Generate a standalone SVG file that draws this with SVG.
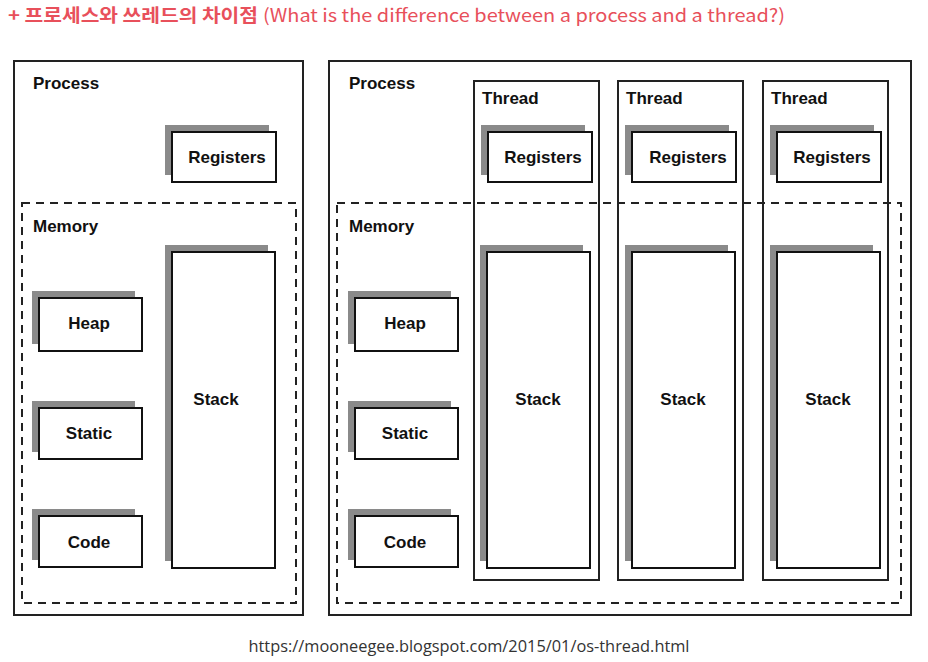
<svg xmlns="http://www.w3.org/2000/svg" width="928" height="662" viewBox="0 0 928 662">
<style>
.outer{fill:#fff;stroke:#222;stroke-width:2}
.box{fill:#fff;stroke:#111;stroke-width:2}
.sh{fill:#8a8a8a;stroke:none}
.mem{fill:none;stroke:#222;stroke-width:2;stroke-dasharray:8 6}
.lbl{font-family:"Liberation Sans",Arial,sans-serif;font-weight:bold;font-size:17px;fill:#111}
.ctr{text-anchor:middle}
</style>
<rect width="928" height="662" fill="#fff"/>
<text x="8" y="22" font-family="'Noto Sans CJK KR','Noto Sans',sans-serif" font-size="18" fill="#e8505b"><tspan font-weight="bold" textLength="250" lengthAdjust="spacingAndGlyphs">+ 프로세스와 쓰레드의 차이점</tspan><tspan x="263" textLength="522" lengthAdjust="spacingAndGlyphs">(What is the difference between a process and a thread?)</tspan></text>

<g id="process-left">
<rect class="outer" x="14" y="61" width="289" height="554"/>
<text class="lbl" x="33" y="89">Process</text>
</g>
<g id="process-right">
<rect class="outer" x="329" y="61" width="582" height="554"/>
<text class="lbl" x="349" y="89">Process</text>
</g>

<g id="thread-1">
<rect class="outer" x="474" y="81" width="125" height="499"/>
<text class="lbl" x="482" y="104">Thread</text>
</g>
<g id="thread-2">
<rect class="outer" x="618" y="81" width="125" height="499"/>
<text class="lbl" x="626" y="104">Thread</text>
</g>
<g id="thread-3">
<rect class="outer" x="763" y="81" width="125" height="499"/>
<text class="lbl" x="771" y="104">Thread</text>
</g>

<g id="memory-left">
<rect class="mem" x="22" y="203" width="274" height="400"/>
<text class="lbl" x="33" y="232">Memory</text>
</g>
<g id="memory-right">
<rect class="mem" x="337" y="203" width="564" height="400"/>
<text class="lbl" x="349" y="232">Memory</text>
</g>

<g id="registers-left">
<rect class="sh" x="165" y="125" width="104" height="50"/>
<rect class="box" x="172" y="132" width="104" height="50"/>
<text class="lbl ctr" x="227" y="163">Registers</text>
</g>
<g id="stack-left">
<rect class="sh" x="165" y="245" width="103" height="316"/>
<rect class="box" x="172" y="252" width="103" height="316"/>
<text class="lbl ctr" x="216" y="405">Stack</text>
</g>
<g id="heap-left">
<rect class="sh" x="32" y="291" width="103" height="53"/>
<rect class="box" x="39" y="298" width="103" height="53"/>
<text class="lbl ctr" x="89" y="329">Heap</text>
</g>
<g id="static-left">
<rect class="sh" x="32" y="401" width="103" height="51"/>
<rect class="box" x="39" y="408" width="103" height="51"/>
<text class="lbl ctr" x="89" y="439">Static</text>
</g>
<g id="code-left">
<rect class="sh" x="32" y="509" width="103" height="51"/>
<rect class="box" x="39" y="516" width="103" height="51"/>
<text class="lbl ctr" x="89" y="548">Code</text>
</g>

<g id="heap-right">
<rect class="sh" x="348" y="291" width="103" height="53"/>
<rect class="box" x="355" y="298" width="103" height="53"/>
<text class="lbl ctr" x="405" y="329">Heap</text>
</g>
<g id="static-right">
<rect class="sh" x="348" y="401" width="103" height="51"/>
<rect class="box" x="355" y="408" width="103" height="51"/>
<text class="lbl ctr" x="405" y="439">Static</text>
</g>
<g id="code-right">
<rect class="sh" x="348" y="509" width="103" height="51"/>
<rect class="box" x="355" y="516" width="103" height="51"/>
<text class="lbl ctr" x="405" y="548">Code</text>
</g>

<g id="registers-t1">
<rect class="sh" x="481" y="125" width="104" height="50"/>
<rect class="box" x="488" y="132" width="104" height="50"/>
<text class="lbl ctr" x="543" y="163">Registers</text>
</g>
<g id="stack-t1">
<rect class="sh" x="480" y="245" width="103" height="316"/>
<rect class="box" x="487" y="252" width="103" height="316"/>
<text class="lbl ctr" x="538" y="405">Stack</text>
</g>
<g id="registers-t2">
<rect class="sh" x="625" y="125" width="104" height="50"/>
<rect class="box" x="632" y="132" width="104" height="50"/>
<text class="lbl ctr" x="688" y="163">Registers</text>
</g>
<g id="stack-t2">
<rect class="sh" x="625" y="245" width="103" height="316"/>
<rect class="box" x="632" y="252" width="103" height="316"/>
<text class="lbl ctr" x="683" y="405">Stack</text>
</g>
<g id="registers-t3">
<rect class="sh" x="770" y="125" width="104" height="50"/>
<rect class="box" x="777" y="132" width="104" height="50"/>
<text class="lbl ctr" x="832" y="163">Registers</text>
</g>
<g id="stack-t3">
<rect class="sh" x="770" y="245" width="103" height="316"/>
<rect class="box" x="777" y="252" width="103" height="316"/>
<text class="lbl ctr" x="828" y="405">Stack</text>
</g>

<g id="connectors"></g>

<text x="469" y="652" text-anchor="middle" font-family="'Open Sans','Noto Sans',sans-serif" font-size="16" fill="#333" textLength="441" lengthAdjust="spacingAndGlyphs">https://mooneegee.blogspot.com/2015/01/os-thread.html</text>
</svg>
